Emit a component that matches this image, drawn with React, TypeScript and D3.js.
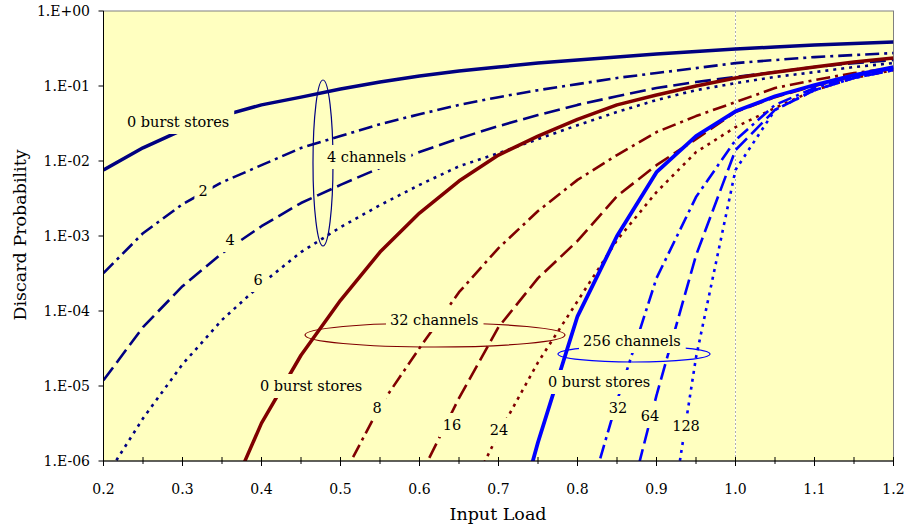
import React, { useEffect, useRef } from 'react';
import * as d3 from 'd3';

// input load values (x) for each group of curves
const load4ch = [0.2, 0.25, 0.3, 0.35, 0.4, 0.45, 0.5, 0.55, 0.6, 0.65, 0.7, 0.75, 0.8, 0.85, 0.9, 0.95, 1.0, 1.05, 1.1, 1.15, 1.2];
const load32ch0 = [0.35, 0.4, 0.45, 0.5, 0.55, 0.6, 0.65, 0.7, 0.75, 0.8, 0.85, 0.9, 0.95, 1.0, 1.05, 1.1, 1.15, 1.2];
const load32ch8 = [0.5, 0.55, 0.6, 0.65, 0.7, 0.75, 0.8, 0.85, 0.9, 0.95, 1.0, 1.05, 1.1, 1.15, 1.2];
const load32ch16 = [0.6, 0.65, 0.7, 0.75, 0.8, 0.85, 0.9, 0.95, 1.0, 1.05, 1.1, 1.15, 1.2];
const load32ch24 = [0.65, 0.7, 0.75, 0.8, 0.85, 0.9, 0.95, 1.0, 1.05, 1.1, 1.15, 1.2];
const load256ch0 = [0.7, 0.75, 0.8, 0.85, 0.9, 0.95, 1.0, 1.05, 1.1, 1.15, 1.2];
const load256ch32 = [0.8, 0.85, 0.9, 0.95, 1.0, 1.05, 1.1, 1.15, 1.2];
const load256ch64 = [0.85, 0.9, 0.95, 1.0, 1.05, 1.1, 1.15, 1.2];
const load256ch128 = [0.9, 0.95, 1.0, 1.05, 1.1, 1.15, 1.2];

// discard probability
const ch4Stores0 = [7.6e-3, 1.5e-2, 2.6e-2, 4.0e-2, 5.6e-2, 7.1e-2, 9.1e-2, 0.113, 0.136, 0.158, 0.179, 0.202, 0.222, 0.243, 0.267, 0.288, 0.311, 0.331, 0.352, 0.368, 0.386];
const ch4Stores2 = [3.2e-4, 1.09e-3, 2.66e-3, 5.2e-3, 8.8e-3, 1.49e-2, 2.15e-2, 3.1e-2, 4.2e-2, 5.6e-2, 7.1e-2, 8.8e-2, 0.106, 0.128, 0.149, 0.173, 0.202, 0.222, 0.243, 0.259, 0.275];
const ch4Stores4 = [1.19e-5, 6.1e-5, 2.14e-4, 5.9e-4, 1.35e-3, 2.75e-3, 4.8e-3, 8.1e-3, 1.32e-2, 2.0e-2, 2.92e-2, 4.1e-2, 5.6e-2, 7.3e-2, 9.4e-2, 0.113, 0.132, 0.153, 0.179, 0.202, 0.222];
const ch4Stores6 = [5.5e-7, 3.7e-6, 1.95e-5, 7.6e-5, 2.3e-4, 6.1e-4, 1.31e-3, 2.58e-3, 4.8e-3, 8.5e-3, 1.27e-2, 1.96e-2, 3.0e-2, 4.5e-2, 6.5e-2, 8.8e-2, 0.109, 0.132, 0.153, 0.179, 0.202];
const ch32Stores0 = [2.0e-7, 3.2e-6, 2.57e-5, 1.39e-4, 6.1e-4, 2.02e-3, 5.4e-3, 1.2e-2, 2.15e-2, 3.6e-2, 5.6e-2, 7.6e-2, 0.1, 0.128, 0.153, 0.179, 0.209, 0.236];
const ch32Stores8 = [5.4e-7, 5.4e-6, 3.2e-5, 1.78e-4, 6.9e-4, 2.15e-3, 5.6e-3, 1.2e-2, 2.43e-2, 3.97e-2, 6.1e-2, 9.4e-2, 0.12, 0.149, 0.173];
const ch32Stores16 = [6.0e-7, 6.9e-6, 6.1e-5, 2.74e-4, 8.6e-4, 3.4e-3, 8.8e-3, 1.96e-2, 4.5e-2, 7.1e-2, 0.1, 0.136, 0.173];
const ch32Stores24 = [2.0e-7, 2.3e-6, 2.07e-5, 1.35e-4, 8.8e-4, 3.85e-3, 1.31e-2, 2.83e-2, 5.1e-2, 8.8e-2, 0.128, 0.163];
const ch256Stores0 = [2.2e-8, 1.78e-6, 8.5e-5, 1.0e-3, 7.1e-3, 2.15e-2, 4.6e-2, 7.3e-2, 0.103, 0.14, 0.179];
const ch256Stores32 = [1.0e-7, 6.3e-6, 2.74e-4, 3.3e-3, 1.9e-2, 5.6e-2, 9.4e-2, 0.136, 0.173];
const ch256Stores64 = [6.5e-8, 7.5e-6, 5.5e-4, 1.4e-2, 4.8e-2, 8.8e-2, 0.128, 0.163];
const ch256Stores128 = [1.0e-8, 2.4e-5, 7.6e-3, 4.8e-2, 8.8e-2, 0.128, 0.163];

const xTicks = [0.2, 0.3, 0.4, 0.5, 0.6, 0.7, 0.8, 0.9, 1.0, 1.1, 1.2];
const yTicks = [1, 1e-1, 1e-2, 1e-3, 1e-4, 1e-5, 1e-6];

const NAVY = '#000080';
const DARKRED = '#800000';
const BLUE = '#0000ff';
const BG = '#ffffc0';
const FONT = 'DejaVu Serif';

const DASH_DOT = '14,5,3,5';
const LONG_DASH = '16,6';
const DOT = '3,5';

const series = [
  { x: load4ch, y: ch4Stores0, color: NAVY, width: 3.5, dash: null },
  { x: load4ch, y: ch4Stores2, color: NAVY, width: 2.6, dash: DASH_DOT },
  { x: load4ch, y: ch4Stores4, color: NAVY, width: 2.6, dash: LONG_DASH },
  { x: load4ch, y: ch4Stores6, color: NAVY, width: 2.6, dash: DOT },
  { x: load32ch0, y: ch32Stores0, color: DARKRED, width: 3.5, dash: null },
  { x: load32ch8, y: ch32Stores8, color: DARKRED, width: 2.6, dash: DASH_DOT },
  { x: load32ch16, y: ch32Stores16, color: DARKRED, width: 2.6, dash: LONG_DASH },
  { x: load32ch24, y: ch32Stores24, color: DARKRED, width: 2.6, dash: DOT },
  { x: load256ch0, y: ch256Stores0, color: BLUE, width: 3.8, dash: null },
  { x: load256ch32, y: ch256Stores32, color: BLUE, width: 2.6, dash: DASH_DOT },
  { x: load256ch64, y: ch256Stores64, color: BLUE, width: 2.6, dash: LONG_DASH },
  { x: load256ch128, y: ch256Stores128, color: BLUE, width: 2.6, dash: DOT },
];

// annotation text: [text, x, y, anchor]
const labels: [string, number, number, string][] = [
  ['0 burst stores', 127, 127, 'start'],
  ['4 channels', 327, 162, 'start'],
  ['2', 203, 196, 'middle'],
  ['4', 230, 245, 'middle'],
  ['6', 258, 285, 'middle'],
  ['32 channels', 390, 325, 'start'],
  ['0 burst stores', 260, 391, 'start'],
  ['8', 377, 413, 'middle'],
  ['16', 452, 430, 'middle'],
  ['24', 499, 435, 'middle'],
  ['256 channels', 583, 346, 'start'],
  ['0 burst stores', 548, 387, 'start'],
  ['32', 618, 413, 'middle'],
  ['64', 650, 421, 'middle'],
  ['128', 686, 431, 'middle'],
];

// group ellipses: [cx, cy, rx, ry, color]
const ellipses: [number, number, number, number, string][] = [
  [323, 163, 10, 83, NAVY],
  [435, 335, 130, 12, DARKRED],
  [634, 354, 76, 8, BLUE],
];

const width = 909;
const height = 529;

function App() {
  const ref = useRef<SVGSVGElement>(null);

  useEffect(() => {
    const svg = d3.select(ref.current);
    svg.selectAll('*').remove();

    const left = 103.5;
    const right = 893.5;
    const top = 11;
    const bottom = 461;

    const x = d3.scaleLinear().domain([0.2, 1.2]).range([left, right]);
    const y = d3.scaleLog().domain([1e-6, 1]).range([bottom, top]);

    svg.append('defs')
      .append('clipPath')
      .attr('id', 'plotClip')
      .append('rect')
      .attr('x', left)
      .attr('y', top)
      .attr('width', right - left)
      .attr('height', bottom - top);

    // plot background + frame
    svg.append('rect')
      .attr('x', left)
      .attr('y', top)
      .attr('width', right - left)
      .attr('height', bottom - top)
      .attr('fill', BG)
      .attr('stroke', '#808080')
      .attr('stroke-width', 1);

    // vertical reference line at load 1.0
    svg.append('line')
      .attr('x1', x(1.0))
      .attr('x2', x(1.0))
      .attr('y1', top)
      .attr('y2', bottom)
      .attr('stroke', '#ffffff')
      .attr('stroke-width', 1.2);
    svg.append('line')
      .attr('x1', x(1.0))
      .attr('x2', x(1.0))
      .attr('y1', top)
      .attr('y2', bottom)
      .attr('stroke', '#9a9a9a')
      .attr('stroke-width', 0.8)
      .attr('stroke-dasharray', '2,2');

    // curves
    const line = d3.line<[number, number]>()
      .x((d) => x(d[0]))
      .y((d) => y(d[1]));

    const g = svg.append('g').attr('clip-path', 'url(#plotClip)');
    series.forEach((s) => {
      const pts = s.x.map((v, i) => [v, s.y[i]] as [number, number]);
      const p = g.append('path')
        .attr('d', line(pts))
        .attr('fill', 'none')
        .attr('stroke', s.color)
        .attr('stroke-width', s.width)
        .attr('stroke-linejoin', 'round');
      if (s.dash) p.attr('stroke-dasharray', s.dash);
    });

    // ellipses
    ellipses.forEach(([cx, cy, rx, ry, c]) => {
      svg.append('ellipse')
        .attr('cx', cx)
        .attr('cy', cy)
        .attr('rx', rx)
        .attr('ry', ry)
        .attr('fill', 'none')
        .attr('stroke', c)
        .attr('stroke-width', 1.2);
    });

    // annotation labels with a background box
    labels.forEach(([t, lx, ly, anchor]) => {
      const lg = svg.append('g');
      const rect = lg.append('rect').attr('fill', BG);
      const txt = lg.append('text')
        .attr('x', lx)
        .attr('y', ly)
        .attr('text-anchor', anchor)
        .attr('font-family', FONT)
        .attr('font-size', 14.5)
        .attr('fill', '#000')
        .text(t);
      const bb = (txt.node() as SVGTextElement).getBBox();
      rect.attr('x', bb.x - 4)
        .attr('y', ly - 17)
        .attr('width', bb.width + 9)
        .attr('height', 24);
    });

    // axes lines
    svg.append('line')
      .attr('x1', left).attr('x2', left)
      .attr('y1', top).attr('y2', bottom)
      .attr('stroke', '#000').attr('stroke-width', 1);
    svg.append('line')
      .attr('x1', left).attr('x2', right)
      .attr('y1', bottom).attr('y2', bottom)
      .attr('stroke', '#000').attr('stroke-width', 1);

    // y ticks
    yTicks.forEach((v) => {
      svg.append('line')
        .attr('x1', left - 5).attr('x2', left)
        .attr('y1', y(v)).attr('y2', y(v))
        .attr('stroke', '#000');
      const e = Math.round(Math.log10(v));
      const lab = `1.E${e >= 0 ? '+' : '-'}${String(Math.abs(e)).padStart(2, '0')}`;
      svg.append('text')
        .attr('x', 90)
        .attr('y', y(v) + 5)
        .attr('text-anchor', 'end')
        .attr('font-family', FONT)
        .attr('font-size', 14)
        .text(lab);
    });

    // x ticks (major + minor)
    d3.range(0.2, 1.2001, 0.05).forEach((v, i) => {
      const major = i % 2 === 0;
      svg.append('line')
        .attr('x1', x(v)).attr('x2', x(v))
        .attr('y1', bottom - 4).attr('y2', bottom + (major ? 5 : 3))
        .attr('stroke', '#000');
    });
    xTicks.forEach((v) => {
      svg.append('text')
        .attr('x', x(v))
        .attr('y', 494)
        .attr('text-anchor', 'middle')
        .attr('font-family', FONT)
        .attr('font-size', 14)
        .text(v.toFixed(1));
    });

    // axis titles
    svg.append('text')
      .attr('x', 498)
      .attr('y', 520)
      .attr('text-anchor', 'middle')
      .attr('font-family', FONT)
      .attr('font-size', 17.5)
      .text('Input Load');
    svg.append('text')
      .attr('transform', 'translate(26,235) rotate(-90)')
      .attr('text-anchor', 'middle')
      .attr('font-family', FONT)
      .attr('font-size', 17.5)
      .text('Discard Probability');
  }, []);

  return (
    <div style={{ position: 'absolute', left: 0, top: 0 }}>
      <svg ref={ref} width={width} height={height} style={{ display: 'block', background: '#fff' }} />
    </div>
  );
}

export default App;
